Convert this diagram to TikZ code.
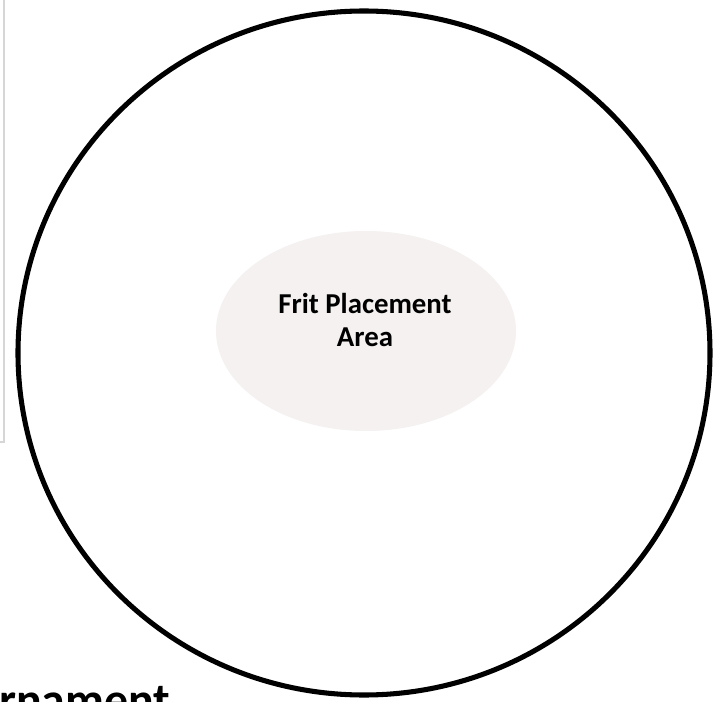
\documentclass[tikz,border=0pt]{standalone}
\usepackage{fontspec}
\setmainfont{Carlito}
\usepackage{tikz}
\usetikzlibrary{positioning}

\definecolor{fritgray}{RGB}{244,241,240}
\definecolor{boxgray}{RGB}{214,214,214}

\begin{document}
\begin{tikzpicture}[
  x=0.25mm, y=-0.25mm,
  dish/.style={draw=black, line width=3.6pt},
  area/.style={fill=fritgray},
  frame/.style={draw=boxgray, line width=1pt},
  lbl/.style={font=\bfseries\fontsize{20.5}{24}\selectfont, align=center, inner sep=0pt},
  title/.style={font=\bfseries\fontsize{34}{38}\selectfont, inner sep=0pt, anchor=base west}
]

%
%  Layout (pixels, y down):
%
%   dish      : centre (364,353), radii 346 x 342
%   frit area : centre (366,331), radii 150 x 100
%

\useasboundingbox (0,0) rectangle (720,702);
\clip (0,0) rectangle (720,702);

% --- cut-off box on the left ---
\coordinate (boxtop) at (4,-5);
\coordinate (boxcorner) at (4,442);
\coordinate (boxleft) at (-5,442);
\draw[frame] (boxtop) -- (boxcorner) -- (boxleft);

% --- dish ---
\draw[dish] (364,353) ellipse [x radius=346, y radius=342];

% --- frit placement area ---
\fill[area] (366,331) ellipse [x radius=150, y radius=100];
\node[lbl] (frit) at (365,320) {Frit Placement\\Area};

% --- cut-off title ---
\node[title] (orn) at (-1,716) {rnament};

\end{tikzpicture}
\end{document}
